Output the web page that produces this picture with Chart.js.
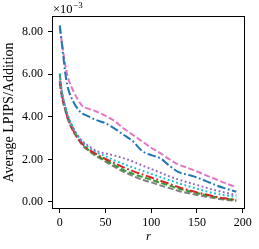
<!DOCTYPE html>
<html>
<head>
<meta charset="utf-8">
<script src="https://cdn.jsdelivr.net/npm/chart.js@4"></script>
<style>
  html, body { margin:0; padding:0; background:#fff; }
  canvas { display:block; }
</style>
</head>
<body>
<canvas id="lpips" width="259" height="249"></canvas>
<script>
// values are in units of 1e-3
const rValues = [0,2,4,6,8,10,15,20,25,30,40,50,60,70,80,90,100,110,120,130,140,150,160,170,180,193];

const blueDashDot  = [8.30,7.55,6.80,6.05,5.55,5.20,4.70,4.35,4.15,4.05,3.85,3.70,3.45,3.15,2.85,2.40,2.20,2.05,1.70,1.40,1.28,1.15,0.98,0.80,0.65,0.48];
const pinkDashed   = [8.20,7.60,7.00,6.45,6.00,5.70,5.20,4.80,4.50,4.40,4.25,4.05,3.80,3.45,3.15,2.85,2.55,2.30,2.00,1.75,1.60,1.43,1.25,1.08,0.90,0.70];
const purpleDotted = [5.90,5.25,4.80,4.45,4.15,3.90,3.45,3.10,2.85,2.68,2.40,2.28,2.18,2.05,1.90,1.72,1.55,1.38,1.20,1.05,0.92,0.80,0.67,0.55,0.45,0.32];
const cyanDotted   = [6.05,5.30,4.85,4.50,4.20,3.95,3.45,3.10,2.82,2.62,2.35,2.15,1.95,1.78,1.62,1.47,1.32,1.17,1.02,0.88,0.75,0.62,0.50,0.40,0.32,0.25];
const redDashDot   = [5.70,5.10,4.70,4.35,4.05,3.80,3.35,3.00,2.72,2.52,2.25,2.02,1.82,1.62,1.45,1.30,1.15,1.00,0.85,0.70,0.57,0.45,0.35,0.25,0.17,0.10];
const greenDashed  = [6.00,5.20,4.75,4.40,4.10,3.85,3.35,3.00,2.70,2.50,2.20,1.95,1.72,1.50,1.32,1.18,1.05,0.90,0.77,0.63,0.52,0.42,0.32,0.23,0.16,0.10];
const grayDashed   = [5.60,5.00,4.60,4.30,4.00,3.75,3.30,2.95,2.65,2.45,2.15,1.90,1.65,1.42,1.22,1.05,0.92,0.78,0.65,0.52,0.42,0.33,0.25,0.17,0.11,0.05];

const xTicks = [0,50,100,150,200];
const yTicks = [0,2,4,6,8];

const DASH = [6,2.6];
const DASHDOT = [8.5,2.6,1.8,2.6];
const DOT = [1.8,2.6];

function series(values, color, dash){
  return {
    data: values.map((v,i) => ({x: rValues[i], y: v})),
    borderColor: color,
    borderWidth: 2,
    borderDash: dash,
    pointRadius: 0,
    cubicInterpolationMode: 'monotone',
    fill: false
  };
}

const FONT = "'Liberation Serif', serif";

// frame + exponent label
const framePlugin = {
  id: 'frame',
  afterDraw(chart){
    const {ctx, chartArea:a} = chart;
    ctx.save();
    ctx.strokeStyle = '#000';
    ctx.lineWidth = 1;
    ctx.strokeRect(a.left + 0.5, a.top + 0.5, a.right - a.left - 1, a.bottom - a.top - 1);

    ctx.fillStyle = '#000';
    ctx.textBaseline = 'alphabetic';
    ctx.textAlign = 'left';
    ctx.font = "12.5px " + FONT;
    ctx.fillText('\u00d710', a.left + 1, 12.5);
    const w = ctx.measureText('\u00d710').width;
    ctx.font = "9px " + FONT;
    ctx.fillText('\u22123', a.left + 1 + w + 0.5, 8);
    ctx.restore();
  }
};

new Chart(document.getElementById('lpips'), {
  type: 'line',
  data: {
    datasets: [
      series(blueDashDot,  '#1f77b4', DASHDOT),
      series(pinkDashed,   '#e377c2', DASH),
      series(purpleDotted, '#9467bd', DOT),
      series(cyanDotted,   '#17becf', DOT),
      series(redDashDot,   '#d62728', DASHDOT),
      series(greenDashed,  '#2ca02c', DASH),
      series(grayDashed,   '#7f7f7f', DASH)
    ]
  },
  options: {
    responsive: false,
    animation: false,
    layout: { padding: { left: 0, top: 16, right: 14, bottom: 0 } },
    plugins: { legend: { display: false }, tooltip: { enabled: false } },
    scales: {
      x: {
        type: 'linear',
        min: -8.5,
        max: 202.5,
        afterBuildTicks: s => { s.ticks = xTicks.map(v => ({value: v})); },
        afterFit: s => { s.height = 40; },
        grid: { drawOnChartArea: false, drawTicks: true, tickLength: 4, tickColor: '#000' },
        border: { display: false },
        ticks: { color: '#000', padding: 3, maxRotation: 0, font: { family: FONT, size: 12 } },
        title: {
          display: true,
          text: 'r',
          color: '#000',
          font: { family: FONT, size: 13, style: 'italic' },
          padding: { top: 0, bottom: 5 }
        }
      },
      y: {
        min: -0.33,
        max: 8.74,
        afterBuildTicks: s => { s.ticks = yTicks.map(v => ({value: v})); },
        afterFit: s => { s.width = 52; },
        grid: { drawOnChartArea: false, drawTicks: true, tickLength: 4, tickColor: '#000' },
        border: { display: false },
        ticks: { color: '#000', padding: 5, font: { family: FONT, size: 12 }, callback: v => v.toFixed(2) },
        title: {
          display: true,
          text: 'Average LPIPS/Addition',
          color: '#000',
          font: { family: FONT, size: 14 },
          padding: { top: 1, bottom: 0 }
        }
      }
    }
  },
  plugins: [framePlugin]
});
</script>
</body>
</html>
